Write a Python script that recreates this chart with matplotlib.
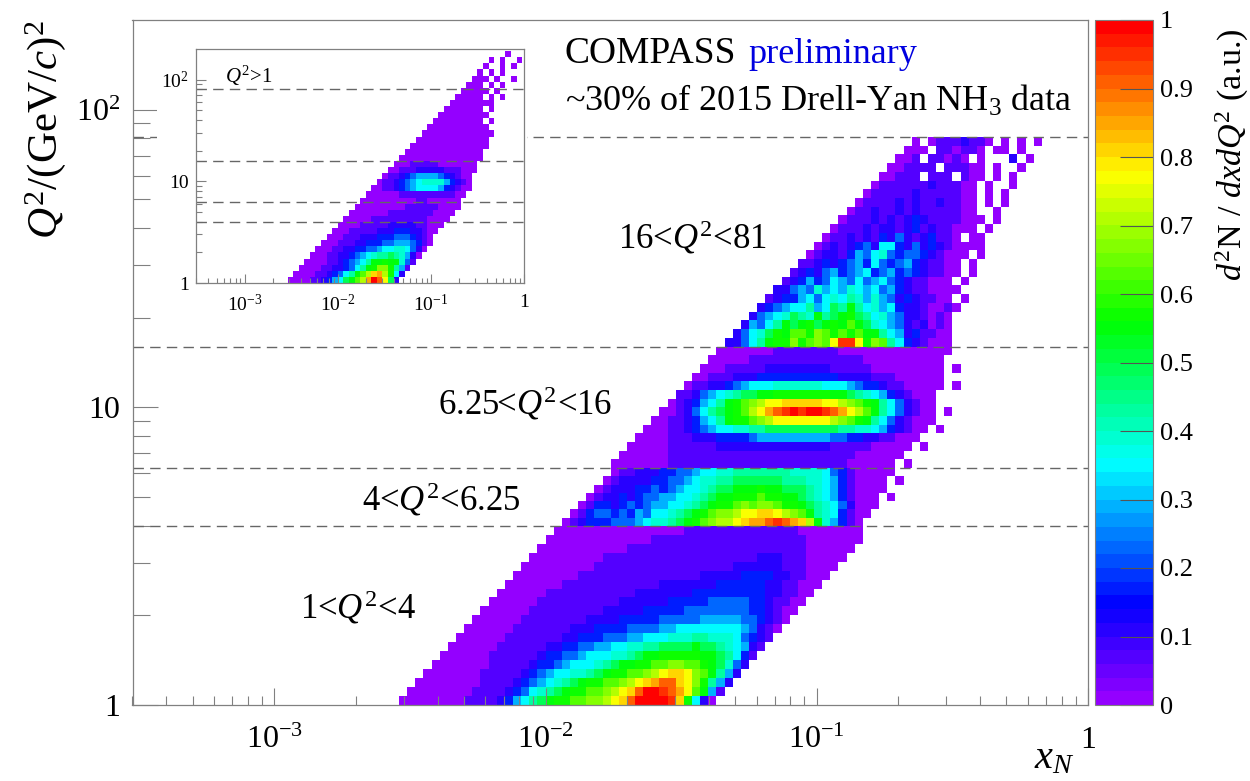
# -*- coding: utf-8 -*-
import numpy as np
import matplotlib
matplotlib.use("Agg")
from matplotlib import pyplot as plt
from matplotlib.colors import LinearSegmentedColormap
from matplotlib.ticker import NullFormatter

# cell values, one letter per bin, "."=empty bin
# every row starts at the column given in the matching *_starts list
level_letters = "abcdefghijklmnopqrstu"
level_values = [0, 0.06, 0.115, 0.16, 0.22, 0.28, 0.35, 0.39, 0.43, 0.48, 0.54,
                0.58, 0.62, 0.66, 0.71, 0.77, 0.81, 0.85, 0.90, 0.95, 1]

band1_starts = [2, 3, 4, 5, 6, 7, 8, 9, 10, 11, 12, 13, 14, 15, 16, 17, 18, 19, 20, 21]
band1_rows = [
    "aaaaaaaabbbbcdfgijkllmmnnopqsuuuutqlgca",
    "aaaaaaaabbbbcdeghijkllmmnopqsuutsrpmkfb",
    "aaaaaaaabbbbcdefghijkllmmnopqrssqpnlifc",
    "aaaaaaabbbbbcdefgghhijkllmmnopqqpnmkifc",
    "aaaaaaabbbbbcddefggghijkkllmmnnmmlkjhec",
    "aaaaaabbbbbbcddeefggghhijkklllllkkjigdb",
    "aaaaaabbbbbbccddeeffgghhiijjjjkjjihgfcb",
    "aaaaaabbbbbbbccdddeeeffggghhhiihhhgedcb",
    "aaaaaabbbbbbbcccddddeeeeffggggggggfecba",
    "aaaaaabbbbbbbbccccdddddeeeeefffffeedcba",
    "aaaaaabbbbbbbbbcccccdddddeeeeeeeeddcbaa",
    "aaaaaabbbbbbbbbbccccccdddddeeeeeddcbbaa",
    "aaaaaabbbbbbbbbbbcccccccdddddddddccbbaa",
    "aaaaaaabbbbbbbbbbbbcccccccddddddccbbaaa",
    "aaaaaaaabbbbbbbbbbbbbbbcccccddddccbbaaa",
    "aaaaaaaaabbbbbbbbbbbbbbbbbccccccbbbaaaa",
    "aaaaaaaaabbbbbbbbbbbbbbbbbbbcccbbbaaaaa",
    "aaaaaaaaaaabbbbbbbbbbbbbbbbbbbbbbaaaaaa",
    "aaaaaaaaaaaaabbbbbbbbbbbbbbbbbbbaaaaaaa",
    "aaaaaaaaaaaaaaaabbbbbbbbbbbbbbaaaaaaaa",
]

band2_starts = [22, 23, 24, 25, 26, 27, 28]
band2_rows = [
    "abcdddeeefghhijklmnoopqrrstsrqokhfdba",
    "abdeededfegghijklmnnoppqqponmkihgdbaa",
    "abddcdedeffgghijkllmnmnnmllkjihgecaaa",
    "abccdcdeeffgghijkklllmllkkjihgfdbaaa.a",
    "abcccddedefgghijjkkklkkjjjihgfdbaaaa",
    "abccccddeefghhiijjjjjjiiihhgfdbaaaa.a",
    "abbcccddeefgghhiiiiiiihhhhgedbaaaaa",
]

band3_starts = [28, 29, 30, 31, 32, 33, 34, 35, 36, 37, 38, 39, 40, 41]
band3_rows = [
    "aaaaaaabbbbbbbbbbbbbbbbbbbbbbaaaaaa.a",
    "aaaaaabbbbbbbbbbbbbbbbbbbbbbbaaaaaa",
    "aaaaabbbbbbccccccccccccccbbbbbaaaaa.a",
    "aaaabbbcccddddefffffffffeeddccbbaaa",
    "aaabbcdefgghhiijjjjjjjjjiihhgfdcbaa.a",
    "aabbcdfgikllmnoppppppponmlkigecbaaa",
    "aabcegijklmoprstutuutsrpomkigecbaa.a",
    "abcdfgiklmnoppqqqqqpponmlkigecbaa",
    "bbcefghijjkklllllllkkjihgfdcbaaa",
    "abbccdefggghhhhhhgggfeddcbbaaaaa.a",
    "aabbbcccddddddddddccccbbbaaaaaa",
    "aaabbbbbccccccccbbbbbaaaaaaaaa.a",
    "aaaaabbbbbbbbbbbbbbaaaaaaaaaa",
    "aaaaaaabbbbbbbbaaaaaaaaaaaaaa",
]

band4_starts = [42, 43, 44, 45, 46, 47, 48, 49, 50, 51, 52, 53, 54, 55, 56, 57, 58, 59, 60, 61, 62, 63, 64, 65]
band4_rows = [
    "ccegikllnlmnmpttplnmigdcbaaa",
    "ceghjlkmmlnmlmlmkkigfcdbbaa",
    "cfegikjkljklkmkjhgfecbcaba",
    "cefghjihkijkljighfeccbaba.",
    "cdefggifgjikighfgdccbaaba",
    "bcddfgeghgihfhfecdcbbaa.a",
    "ccefehfgfhgfgefdcbbaaaa.",
    "bcdfdegfegefgedcbbaaa.a",
    "bcdcefdefgdefdedcbbaa.a",
    "bbcdcdefdgedefdcbbaa.a",
    "abccbdfeghedeedcbaaa.a",
    "abcbcdecggdcecdcbaaaa.",
    "abbcbcbdcecbcdbba.aa",
    "abbbcbccbcdbcbbaaa.a",
    "abbbcbcbcdcbbbbaaa.a",
    "abbcbbcbcbbbbbaa..a",
    "abbbbcbcbbcbbaa.a.a",
    "abbbbbcbbbbbaa.a.a",
    "abbbbbbcbbbaa.a..a",
    "aabbb.bbb.baa.a.a",
    "aabbbb.bbbaa.a..a",
    "aab.bbaba.a...c.a",
    "aaa.bbabba.aa.a",
    "a.abbbcbba.a.a.a",
]

inset_starts = [1, 2, 3, 4, 5, 6, 7, 8, 9, 10, 11, 12, 13, 14, 15, 16, 17, 18, 19,
                20, 21, 22, 23, 24, 25, 26, 27, 28, 29, 30, 31, 32, 33, 34, 35, 36, 37, 39]
inset_rows = [
    "aaaabbcdfgjkmoruspjc",
    "aaaabbcdegikmoqrolgc",
    "aaaabbccdegiklnnlifb",
    "aaaabbcdefgikklkkheb",
    "aaabbccdefghiijihfca",
    "aaabbccddeefgghhgeca",
    "aaabbbccdddeefffedba",
    "aaabbbcccdddeeedcba",
    "aaabbbbbcccdddccbaa",
    "aaaabbbbbcccccbbaaa",
    "aaaaabbbbbbbbbbaaaa",
    "aaaaaaabbbbbbbbaaaa",
    "aaaaaaaaabbbbbbaaaa",
    "aaaaaaaaaabbaaaaaa",
    "aaaaaabbbbbbbbbbaa",
    "aabbcdefggggfdcbaa",
    "abbcdefghhhhfdcba",
    "abbcdeffffedcbaa",
    "aabbbcccccbbbaaa",
    "aaabbbbbaaaaaaa",
    "aaaaaaaaaaaaaaa",
    "aaaaaaaaaaaaaa",
    "aaaaaaaaaaaaaa",
    "aaaaaaaaaaaaa",
    "aaaaaaaaaaaaa",
    "aaaaaaaaaaa",
    "aaaaaaaaa.a",
    "aaaaaaaaa",
    "aaaaaaa.a",
    "aaaaaaaa",
    "aaaaa.a.a",
    "aaaaa.a",
    "aaa.a.a",
    "aaa.a..a",
    "a.a.a.",
    "a..a.a",
    "a.a..a",
    ".a.",
]

q2_cuts = [4, 6.25, 16, 81]
band_labels = [r"1<$\mathit{Q}^{2}$<4", r"4<$\mathit{Q}^{2}$<6.25", r"6.25<$\mathit{Q}^{2}$<16", r"16<$\mathit{Q}^{2}$<81"]
cbar_ticks = [0, 0.1, 0.2, 0.3, 0.4, 0.5, 0.6, 0.7, 0.8, 0.9, 1]
cbar_ticklabels = ["0", "0.1", "0.2", "0.3", "0.4", "0.5", "0.6", "0.7", "0.8", "0.9", "1"]
x_major = [1e-3, 1e-2, 1e-1, 1]
x_ticklabels = [r"$10^{-3}$", r"$10^{-2}$", r"$10^{-1}$", "1"]
y_major = [1, 10, 100]
y_ticklabels = ["1", "10", r"$10^{2}$"]

plt.rcParams["font.family"] = ["Liberation Serif", "DejaVu Serif"]
plt.rcParams["mathtext.fontset"] = "custom"
plt.rcParams["mathtext.rm"] = "Liberation Serif"
plt.rcParams["mathtext.it"] = "Liberation Serif:italic"
plt.rcParams["mathtext.bf"] = "Liberation Serif:bold"
plt.rcParams["mathtext.default"] = "regular"

W, H = 1250.0, 781.0
GRAY = "#808080"


def box(left, top, right, bottom):
    return [left / W, 1 - bottom / H, (right - left) / W, (bottom - top) / H]


def grid(rows, starts, ncols):
    out = np.full((len(rows), ncols), np.nan)
    for r, (row, s) in enumerate(zip(rows, starts)):
        for c, ch in enumerate(row):
            if ch != ".":
                out[r, s + c] = level_values[level_letters.index(ch)]
    return out


def style_axes(ax, x_size, ymaj, ymin, xmaj, xmin, pad_x, pad_y):
    ax.set_xscale("log")
    ax.set_yscale("log")
    ax.set_xlim(3e-4, 1)
    ax.set_ylim(1, 200)
    ax.set_xticks(x_major)
    ax.set_xticklabels(x_ticklabels)
    ax.set_yticks(y_major)
    ax.set_yticklabels(y_ticklabels)
    ax.set_xticks([m * 10.0 ** e for e in range(-4, 0) for m in range(2, 10) if m * 10.0 ** e > 3e-4], minor=True)
    ax.set_yticks([m * 10.0 ** e for e in range(0, 3) for m in range(2, 10) if m * 10.0 ** e < 200], minor=True)
    ax.xaxis.set_minor_formatter(NullFormatter())
    ax.yaxis.set_minor_formatter(NullFormatter())
    ax.tick_params(axis="x", which="major", direction="in", length=xmaj * 0.72, width=0.8, color=GRAY,
                   labelsize=x_size, pad=pad_x)
    ax.tick_params(axis="x", which="minor", direction="in", length=xmin * 0.72, width=0.8, color=GRAY)
    ax.tick_params(axis="y", which="major", direction="in", length=ymaj * 0.72, width=0.8, color=GRAY,
                   labelsize=x_size, pad=pad_y)
    ax.tick_params(axis="y", which="minor", direction="in", length=ymin * 0.72, width=0.8, color=GRAY)
    for s in ax.spines.values():
        s.set_color(GRAY)
        s.set_linewidth(0.9)


cmap = LinearSegmentedColormap.from_list(
    "root_rainbow",
    [(0.0, "#9400ff"), (0.14, "#0000ff"), (0.35, "#00ffff"), (0.56, "#00ff00"),
     (0.78, "#ffff00"), (1.0, "#ff0000")], N=50)

fig = plt.figure(figsize=(12.5, 7.81), dpi=100)
ax = fig.add_axes(box(132.5, 20, 1088, 705))

x_edges = 10 ** (-2.6 + 0.03 * np.arange(85))
band_limits = [1, 4, 6.25, 16, 81]
bands = [(band1_rows, band1_starts), (band2_rows, band2_starts),
         (band3_rows, band3_starts), (band4_rows, band4_starts)]
for i, (rows, starts) in enumerate(bands):
    y_edges = np.geomspace(band_limits[i], band_limits[i + 1], len(rows) + 1)
    mesh = ax.pcolormesh(x_edges, y_edges, grid(rows, starts, 84), cmap=cmap, vmin=0, vmax=1)

for q in q2_cuts:
    ax.axhline(q, color="#666666", lw=1.0, dashes=(7.5, 4.5))
style_axes(ax, 23, 25, 17, 17, 9, 15, 9)

# white area under the inset, hides the dashed line there
pad = fig.add_axes(box(157, 24, 527, 325))
pad.set_xticks([])
pad.set_yticks([])
for s in pad.spines.values():
    s.set_visible(False)

ins = fig.add_axes(box(196, 49, 524, 283))
ins_x = 10 ** (-2.6 + 0.06 * np.arange(44))
ins_y = 10 ** (0.06 * np.arange(len(inset_rows) + 1))
ins.pcolormesh(ins_x, ins_y, grid(inset_rows, inset_starts, 43), cmap=cmap, vmin=0, vmax=1)
for q in q2_cuts:
    ins.axhline(q, color="#666666", lw=1.0, dashes=(7.5, 4.5))
style_axes(ins, 14, 10, 6, 9, 5, 8, 5)
ins.text(225 / W, 1 - 83 / H, r"$\mathit{Q}^{2}$>1", transform=fig.transFigure, fontsize=15)

# colour bar
cax = fig.add_axes(box(1095, 20, 1153, 705))
cb = fig.colorbar(mesh, cax=cax)
cb.set_ticks(cbar_ticks)
cb.set_ticklabels(cbar_ticklabels)
cb.ax.tick_params(direction="in", length=33 * 0.72, width=0.8, color="#555555", labelsize=19, pad=5)
cb.minorticks_off()
cb.outline.set_edgecolor(GRAY)
cb.outline.set_linewidth(0.8)

# texts
label_pos = [(300, 618), (362, 511), (438, 415), (618, 249)]
for txt, (px, py) in zip(band_labels, label_pos):
    fig.text(px / W, 1 - py / H, txt, fontsize=25, va="baseline")
fig.text(565 / W, 1 - 63 / H, "COMPASS", fontsize=27)
fig.text(748 / W, 1 - 63 / H, "preliminary", fontsize=26, color="#0000e0")
fig.text(565 / W, 1 - 111 / H, r"~30% of 2015 Drell-Yan NH$_3$ data", fontsize=26)
fig.text(46 / W, 1 - 130 / H, r"$\mathit{Q}^{2}$/(GeV/$\mathit{c}$)$^{2}$", fontsize=31, rotation=90,
         ha="center", va="center")
fig.text(1075 / W, 1 - 768 / H, r"$\mathit{x}_{\mathit{N}}$", fontsize=29, ha="right")
fig.text(1232 / W, 1 - 155 / H, r"$\mathit{d}^{2}$N / $\mathit{dxdQ}^{2}$ (a.u.)", fontsize=24.5, rotation=90,
         ha="center", va="center")

plt.savefig("out.png", dpi=100)
